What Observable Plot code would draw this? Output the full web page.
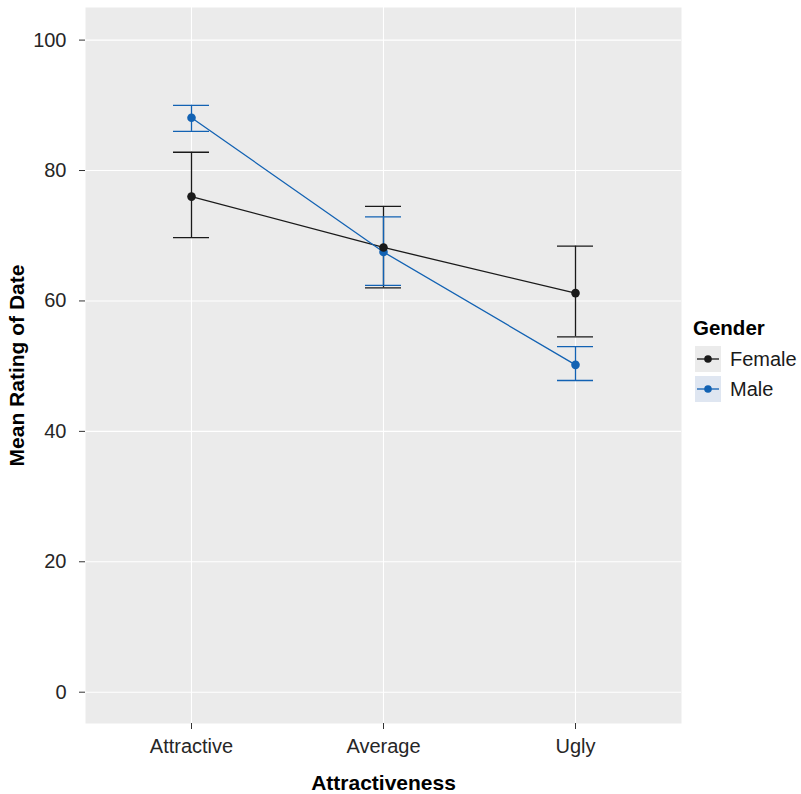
<!DOCTYPE html>
<html>
<head>
<meta charset="utf-8">
<script src="https://cdn.jsdelivr.net/npm/d3@7"></script>
<script src="https://cdn.jsdelivr.net/npm/@observablehq/plot@0.6"></script>
<style>
  html, body { margin: 0; padding: 0; background: white; }
  #wrap { position: relative; width: 801px; height: 794px; font-family: "Liberation Sans", Arial, sans-serif; }
  #legend { position: absolute; left: 686px; top: 308px; }
  g[aria-label="y-axis label"] text, g[aria-label="x-axis label"] text { font-weight: bold; fill: #000; font-size: 21px; }
</style>
</head>
<body>
<div id="wrap">
  <div id="chart"></div>
  <svg id="legend" width="115" height="110"></svg>
</div>
<script>
// ---- Data ----
const categories = ["Attractive", "Average", "Ugly"];
const genders = ["Female", "Male"];
const femaleMean  = [76.0, 68.2, 61.2];
const femaleLower = [69.7, 62.0, 54.5];
const femaleUpper = [82.8, 74.5, 68.4];
const maleMean  = [88.1, 67.5, 50.2];
const maleLower = [86.0, 62.4, 47.8];
const maleUpper = [90.0, 72.9, 53.0];
const yTicks = [0, 20, 40, 60, 80, 100];
const colors = ["#1a1a1a", "#1262b3"];
const keyFills = ["#ebebeb", "#dfe6f1"];

const rows = [];
categories.forEach((c, i) => {
  rows.push({category: c, gender: "Female", mean: femaleMean[i], lower: femaleLower[i], upper: femaleUpper[i]});
});
categories.forEach((c, i) => {
  rows.push({category: c, gender: "Male", mean: maleMean[i], lower: maleLower[i], upper: maleUpper[i]});
});
const dotRows = [...rows.filter(d => d.gender === "Male"), ...rows.filter(d => d.gender === "Female")];

const chart = Plot.plot({
  width: 801,
  height: 794,
  marginLeft: 85,
  marginRight: 120,
  marginTop: 7,
  marginBottom: 71,
  style: {fontFamily: "'Liberation Sans', Arial, sans-serif", fontSize: "20px", background: "white", color: "#1a1a1a"},
  x: {type: "band", domain: categories, paddingInner: 0.8125, paddingOuter: 0.458, label: null},
  y: {domain: [-4.8, 105], label: null},
  color: {domain: genders, range: colors},
  marks: [
    Plot.frame({fill: "#ebebeb", stroke: "none"}),
    Plot.gridY(yTicks, {stroke: "white", strokeOpacity: 1, strokeWidth: 1.1}),
    Plot.gridX({stroke: "white", strokeOpacity: 1, strokeWidth: 1.1}),
    Plot.axisY(yTicks, {tickSize: 6, tickPadding: 13, stroke: "#333", fill: "#262626", label: "Mean Rating of Date", labelArrow: "none", labelAnchor: "center", labelOffset: 76}),
    Plot.axisX({tickSize: 6, tickPadding: 9, stroke: "#333", fill: "#262626", label: "Attractiveness", labelArrow: "none", labelAnchor: "center", labelOffset: 66}),
    Plot.ruleX(rows, {x: "category", y1: "lower", y2: "upper", stroke: "gender", strokeWidth: 1.3}),
    Plot.tickY(rows, {x: "category", y: "lower", stroke: "gender", strokeWidth: 1.3}),
    Plot.tickY(rows, {x: "category", y: "upper", stroke: "gender", strokeWidth: 1.3}),
    Plot.line(rows, {x: "category", y: "mean", z: "gender", stroke: "gender", strokeWidth: 1.3}),
    Plot.dot(dotRows, {x: "category", y: "mean", fill: "gender", r: 4.3})
  ]
});
document.getElementById("chart").appendChild(chart);

// ---- Legend ----
const lg = d3.select("#legend");
lg.append("text").attr("x", 7).attr("y", 27).attr("font-size", 20.5).attr("font-weight", "bold").attr("fill", "#000").text("Gender");
genders.forEach((g, i) => {
  const y0 = 38 + i * 30;
  lg.append("rect").attr("x", 9).attr("y", y0).attr("width", 26).attr("height", 26).attr("fill", keyFills[i]);
  lg.append("line").attr("x1", 11).attr("x2", 33).attr("y1", y0 + 13).attr("y2", y0 + 13).attr("stroke", colors[i]).attr("stroke-width", 1.3);
  lg.append("circle").attr("cx", 22).attr("cy", y0 + 13).attr("r", 3.8).attr("fill", colors[i]);
  lg.append("text").attr("x", 44).attr("y", y0 + 20).attr("font-size", 20).attr("fill", "#1a1a1a").text(g);
});
</script>
</body>
</html>
